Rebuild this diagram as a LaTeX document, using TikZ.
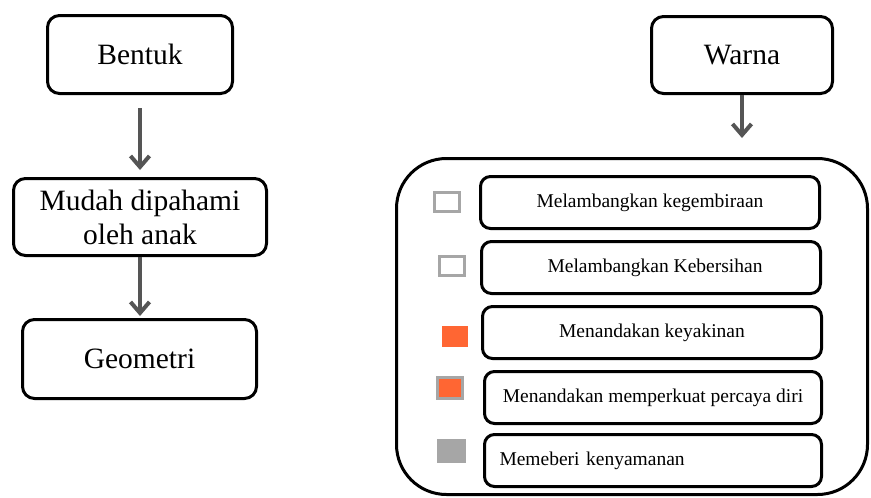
\documentclass[tikz,border=0pt]{standalone}
\usepackage{fontspec}
\setmainfont{Liberation Serif}
\usetikzlibrary{arrows.meta}
\definecolor{arrowgray}{HTML}{555555}
\definecolor{boxgray}{HTML}{A6A6A6}
\definecolor{tileorange}{HTML}{FF6633}
\begin{document}
\begin{tikzpicture}[x=1pt,y=-1pt,
  mainbox/.style={draw=black, line width=3pt, rounded corners=12pt, fill=white, inner sep=0pt, font=\fontsize{29.5pt}{34pt}\selectfont, align=center},
  itembox/.style={draw=black, line width=3pt, rounded corners=10pt, inner sep=0pt, minimum height=52pt, font=\fontsize{19.5pt}{22pt}\selectfont, align=center},
  flow/.style={draw=arrowgray, line width=4pt, -{Straight Barb[length=11pt,width=19pt]}},
  swatch/.style={inner sep=0pt, line width=3pt}]
\useasboundingbox (0,0) rectangle (871,498);
% left column
\node[mainbox, minimum width=185pt, minimum height=78pt] (bentuk) at (140,54.5) {Bentuk};
\node[mainbox, minimum width=253pt, minimum height=77pt] (mudah) at (140,217) {Mudah dipahami\\oleh anak};
\node[mainbox, minimum width=234pt, minimum height=79pt] (geometri) at (139.5,359) {Geometri};
% right column
\node[mainbox, minimum width=181pt, minimum height=77pt] (warna) at (742,55) {Warna};
\node[draw=black, line width=3pt, rounded corners=50pt, minimum width=471pt, minimum height=336pt, inner sep=0pt] (panel) at (632,326.5) {};
% items
\node[itembox, minimum width=339pt] (i1) at (650,202.5) {Melambangkan kegembiraan};
\node[itembox, minimum width=339pt] (i2) at (651,267.5) {\hspace*{8pt}Melambangkan Kebersihan};
\node[itembox, minimum width=339pt] (i3) at (652,332.5) {Menandakan keyakinan};
\node[itembox, minimum width=337pt] (i4) at (653,397.5) {Menandakan memperkuat percaya diri};
\node[itembox, text width=307pt, inner xsep=15pt, align=left] (i5) at (653,460.5) {Memeberi kenyamanan};
% swatches
\node[swatch, draw=boxgray, fill=white, minimum width=25pt, minimum height=19pt] (s1) at (447,201.5) {};
\node[swatch, draw=boxgray, fill=white, minimum width=25pt, minimum height=19pt] (s2) at (452,266) {};
\node[swatch, fill=tileorange, minimum width=26pt, minimum height=21pt] (s3) at (455,336.5) {};
\node[swatch, draw=boxgray, fill=tileorange, minimum width=25pt, minimum height=21pt] (s4) at (450,388) {};
\node[swatch, fill=boxgray, minimum width=29pt, minimum height=24pt] (s5) at (451.5,451) {};
% arrows
\draw[flow] ([yshift=-13pt]bentuk.south) -- ([yshift=7pt]bentuk.south |- mudah.north);
\draw[flow] (mudah.south) -- ([yshift=2pt]mudah.south |- geometri.north);
\draw[flow] (warna.south) -- ([yshift=19pt]warna.south |- panel.north);
\end{tikzpicture}
\end{document}
